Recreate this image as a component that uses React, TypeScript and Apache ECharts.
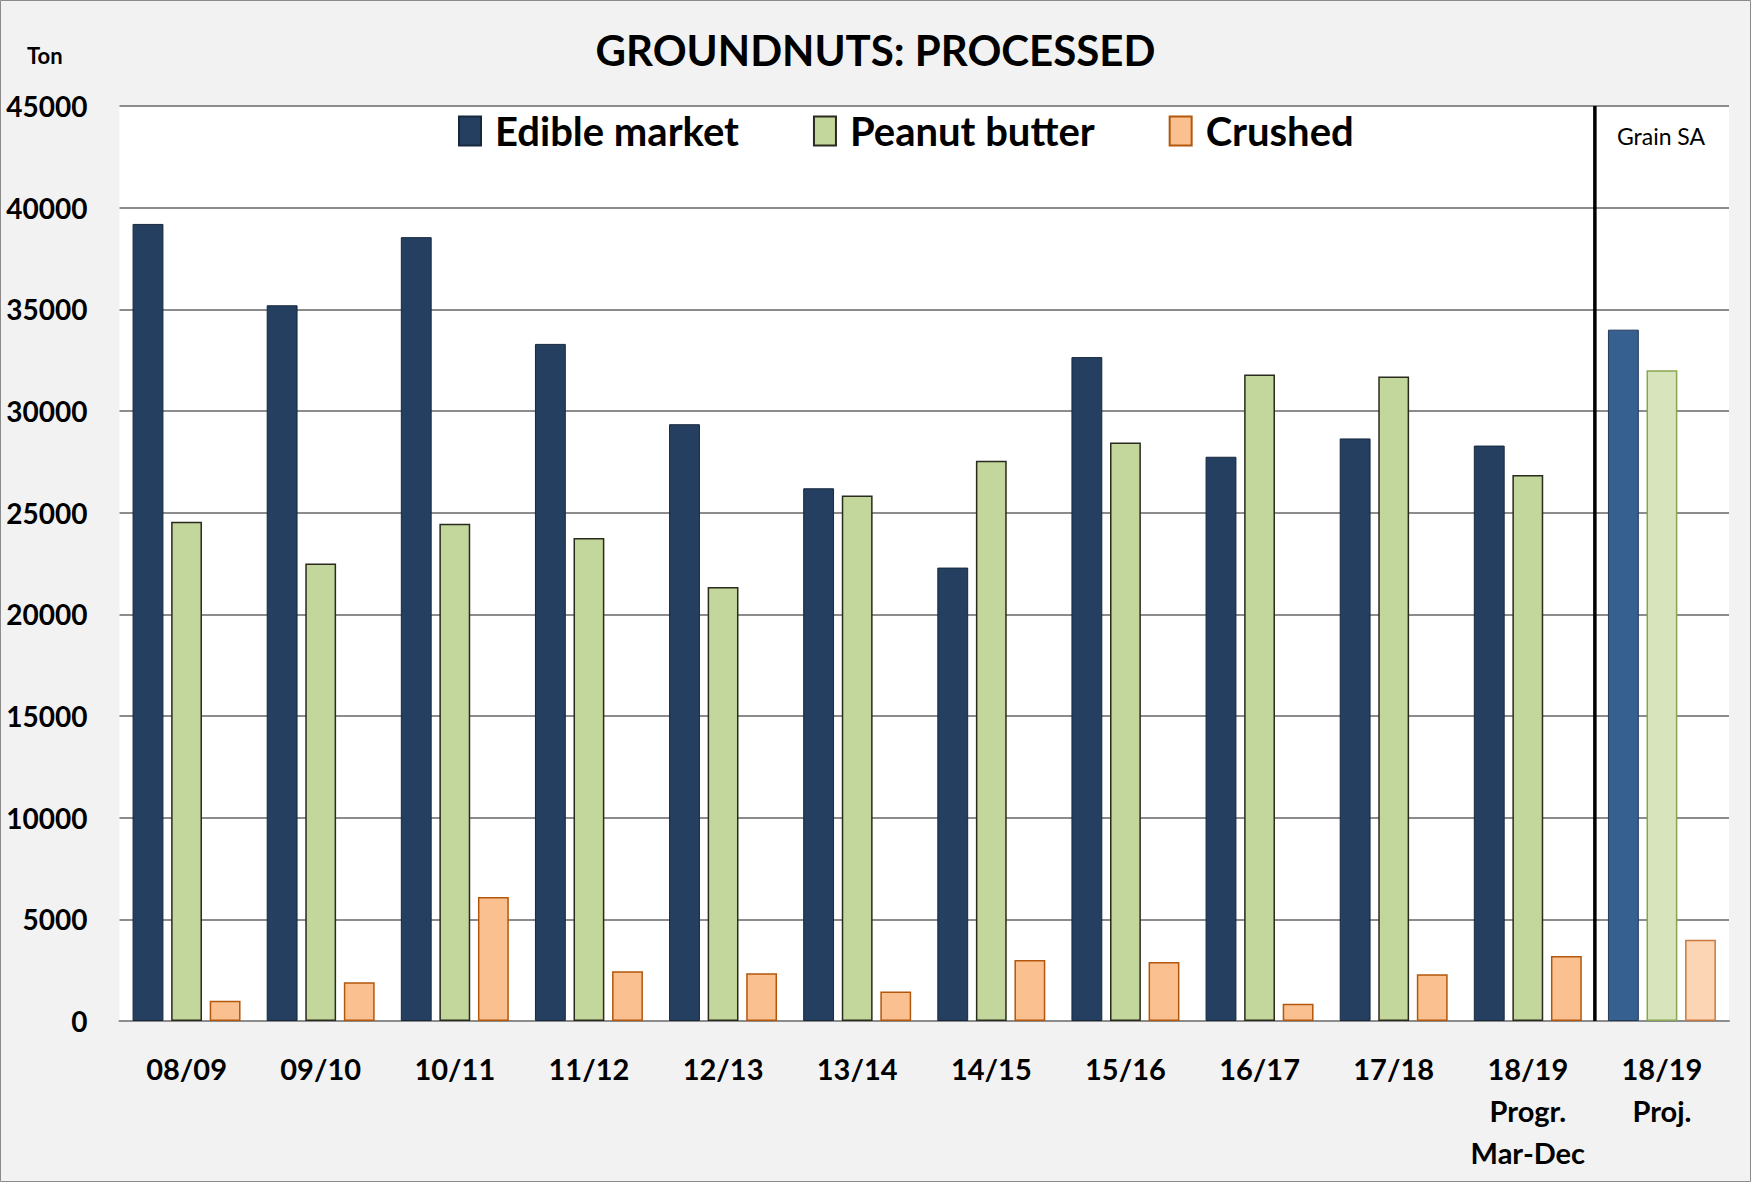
import React, { useEffect, useRef } from "react";
import * as echarts from "echarts";

const categories = [
  "08/09", "09/10", "10/11", "11/12", "12/13", "13/14", "14/15",
  "15/16", "16/17", "17/18", "18/19\nProgr.\nMar-Dec", "18/19\nProj.",
];
const edibleMarket = [39200, 35200, 38550, 33300, 29350, 26200, 22300, 32650, 27750, 28650, 28300, 34000];
const peanutButter = [24550, 22500, 24450, 23750, 21350, 25850, 27550, 28450, 31800, 31700, 26850, 32000];
const crushed = [1000, 1900, 6100, 2450, 2350, 1450, 3000, 2900, 850, 2300, 3200, 4000];
const yTicks = { min: 0, max: 45000, interval: 5000 };
const projIndex = 11;
const dividerAt = 11;

const FONT = "Lato, 'Open Sans', sans-serif";

export default function App() {
  const ref = useRef<HTMLDivElement>(null);
  useEffect(() => {
    document.body.style.margin = "0";
    const chart = echarts.init(ref.current!, undefined, { renderer: "svg" });

    const mk = (values: number[], bw: number, projColor: string, projBorder: string) =>
      values.map((v, i) =>
        i === projIndex
          ? { value: v, itemStyle: { color: projColor, borderColor: projBorder, borderWidth: bw } }
          : { value: v }
      );

    chart.setOption({
      animation: false,
      backgroundColor: "#f2f2f2",
      textStyle: { fontFamily: FONT },
      title: {
        text: "GROUNDNUTS: PROCESSED",
        left: "center",
        top: 24,
        textStyle: { fontFamily: FONT, fontSize: 42, fontWeight: "bold", color: "#000" },
      },
      graphic: [
        {
          type: "rect",
          shape: { x: 0.5, y: 0.5, width: 1750, height: 1181 },
          style: { fill: "none", stroke: "#8a8a8a", lineWidth: 1 },
          silent: true,
          z: 100,
        },
        {
          type: "text",
          x: 27,
          y: 44,
          style: { text: "Ton", fontFamily: FONT, fontSize: 22, fontWeight: "bold", fill: "#000" },
        },
        {
          type: "text",
          x: 1661,
          y: 136,
          style: {
            text: "Grain SA",
            fontFamily: FONT,
            fontSize: 23,
            fill: "#000",
            align: "center",
            verticalAlign: "middle",
          },
          z: 50,
        },
      ],
      legend: {
        data: ["Edible market", "Peanut butter", "Crushed"],
        left: 453,
        top: 106,
        icon: "rect",
        itemWidth: 22,
        itemHeight: 29,
        itemGap: 74,
        textStyle: {
          fontFamily: FONT,
          fontSize: 40,
          fontWeight: "bold",
          color: "#000",
          padding: [0, 0, 0, 9],
        },
      },
      grid: {
        left: 119.5,
        right: 22,
        top: 106,
        bottom: 161,
        show: true,
        backgroundColor: "#ffffff",
        borderWidth: 0,
      },
      xAxis: [
        {
          type: "category",
          data: categories,
          axisLine: { show: true, lineStyle: { color: "#8c8c8c", width: 2 } },
          axisTick: { show: false },
          axisLabel: {
            margin: 26,
            fontFamily: FONT,
            fontSize: 29,
            fontWeight: "bold",
            color: "#000",
            lineHeight: 42,
            interval: 0,
          },
        },
        { type: "value", min: 0, max: 12, show: false },
      ],
      yAxis: {
        type: "value",
        min: yTicks.min,
        max: yTicks.max,
        interval: yTicks.interval,
        axisLine: { show: false },
        axisTick: { show: false },
        splitLine: { lineStyle: { color: "#8c8c8c", width: 2 } },
        axisLabel: {
          margin: 32,
          fontFamily: FONT,
          fontSize: 28,
          fontWeight: "bold",
          color: "#000",
          formatter: (v: number) => String(v),
        },
      },
      series: [
        {
          name: "Edible market",
          type: "bar",
          barWidth: "23%",
          barGap: "25%",
          itemStyle: { color: "#243f60", borderColor: "#17283d", borderWidth: 1 },
          data: mk(edibleMarket, 1, "#36608f", "#22395a"),
        },
        {
          name: "Peanut butter",
          type: "bar",
          barWidth: "23%",
          barGap: "25%",
          itemStyle: { color: "#c3d69b", borderColor: "#2a2a1e", borderWidth: 1.5 },
          data: mk(peanutButter, 1.5, "#d8e4bc", "#8aa650"),
        },
        {
          name: "Crushed",
          type: "bar",
          barWidth: "23%",
          barGap: "25%",
          itemStyle: { color: "#fac090", borderColor: "#b3570c", borderWidth: 1.5 },
          data: mk(crushed, 1.5, "#fcd5b5", "#c7793f"),
        },
        {
          name: "divider",
          type: "line",
          xAxisIndex: 1,
          symbol: "none",
          silent: true,
          lineStyle: { color: "#000", width: 3.5 },
          data: [
            [dividerAt, yTicks.min],
            [dividerAt, yTicks.max],
          ],
          z: 10,
        },
      ],
    });
    return () => chart.dispose();
  }, []);
  return (
    <div
      ref={ref}
      style={{ position: "absolute", left: 0, top: 0, width: 1751, height: 1182 }}
    />
  );
}
